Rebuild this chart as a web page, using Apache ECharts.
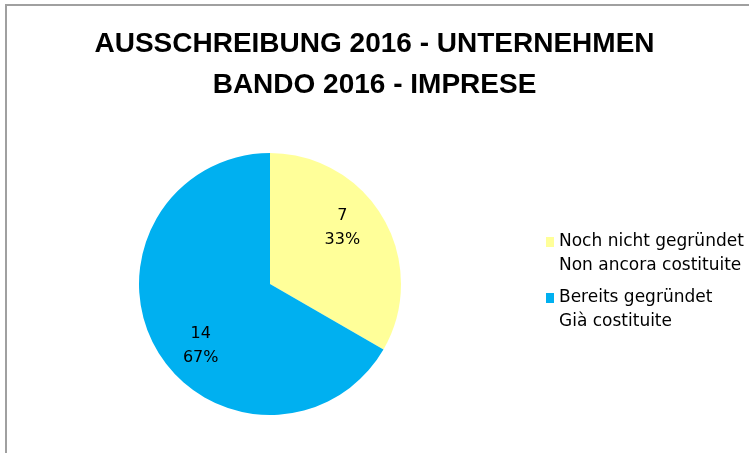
<!DOCTYPE html>
<html>
<head>
<meta charset="utf-8">
<script src="https://cdn.jsdelivr.net/npm/echarts@6/dist/echarts.min.js"></script>
<style>
  html, body { margin: 0; padding: 0; background: #fff; }
  #chart { width: 749px; height: 453px; }
</style>
</head>
<body>
<div id="chart"></div>
<script>
// data
var categories = ['Noch nicht gegründet\nNon ancora costituite', 'Bereits gegründet\nGià costituite'];
var values = [7, 14];
var colors = ['#FFFF99', '#00B0F0'];

// nudge of each slice label from its default inner spot
var labelShift = [[13, -22], [-10, 28]];

var chart = echarts.init(document.getElementById('chart'));

chart.setOption({
	animation: false,
	backgroundColor: '#ffffff',
	title: {
		text: 'AUSSCHREIBUNG 2016 - UNTERNEHMEN\nBANDO 2016 - IMPRESE',
		left: 'center',
		top: 24,
		padding: [0, 0, 0, 7],
		textStyle: {
			fontFamily: 'Liberation Sans',
			fontWeight: 'bold',
			fontSize: 28,
			lineHeight: 41,
			color: '#000'
		}
	},
	legend: {
		orient: 'vertical',
		left: 546,
		top: 206,
		padding: 0,
		itemWidth: 8,
		itemHeight: 10,
		itemGap: -16,
		icon: 'rect',
		data: categories,
		// blank first line so the icon sits beside the first text line
		formatter: function (name) {
			return ' \n' + name;
		},
		textStyle: {
			fontFamily: 'DejaVu Sans',
			fontSize: 17,
			lineHeight: 24,
			color: '#000'
		}
	},
	graphic: [{
		type: 'polyline',
		shape: { points: [[6, 453], [6, 5], [749, 5]] },
		style: { stroke: '#a0a0a0', lineWidth: 2, fill: null }
	}],
	series: [{
		type: 'pie',
		center: [270, 284],
		radius: 131,
		startAngle: 90,
		clockwise: true,
		data: categories.map(function (name, i) {
			return { name: name, value: values[i], itemStyle: { color: colors[i] } };
		}),
		label: {
			show: true,
			position: 'inner',
			formatter: function (p) {
				return p.value + '\n' + Math.round(p.percent) + '%';
			},
			fontFamily: 'DejaVu Sans',
			fontSize: 16,
			lineHeight: 24,
			color: '#000'
		},
		labelLayout: function (params) {
			var s = labelShift[params.dataIndex];
			return { dx: s[0], dy: s[1] };
		},
		labelLine: { show: false },
		emphasis: { disabled: true }
	}]
});
</script>
</body>
</html>
